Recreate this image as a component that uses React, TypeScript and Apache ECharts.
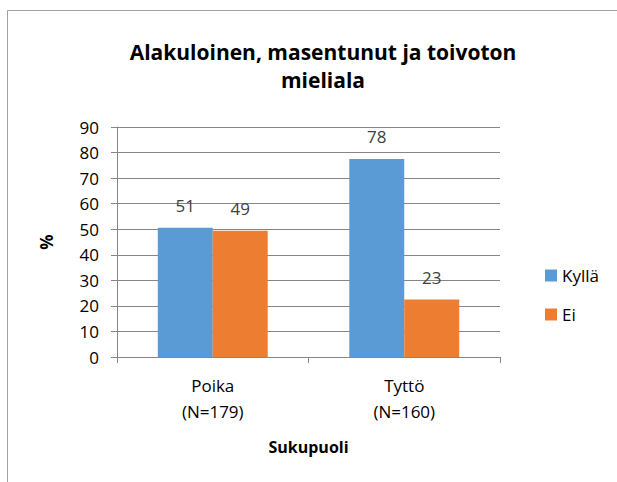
import React, { useEffect, useRef } from "react";
import * as echarts from "echarts";

const categories = ["Poika\n(N=179)", "Tyttö\n(N=160)"];
const kylla = [50.6, 77.5];
const ei = [49.4, 22.5];
const seriesNames = ["Kyllä", "Ei"];

const FONT = "'Open Sans', 'Noto Sans', sans-serif";

export default function App() {
  const ref = useRef<HTMLDivElement>(null);
  useEffect(() => {
    document.body.style.margin = "0";
    const chart = echarts.init(ref.current!, null, { renderer: "svg" });
    const labelCfg = {
      show: true,
      position: "top" as const,
      distance: 14,
      color: "#404040",
      fontSize: 17,
      fontFamily: FONT,
      formatter: (p: any) => String(Math.round(p.value)),
    };
    chart.setOption({
      animation: false,
      backgroundColor: "#fff",
      textStyle: { fontFamily: FONT },
      title: {
        text: "Alakuloinen, masentunut ja toivoton\nmieliala",
        left: 318,
        textAlign: "center",
        top: 33,
        textStyle: {
          fontSize: 21,
          fontWeight: "bold",
          color: "#000",
          fontFamily: FONT,
          lineHeight: 28,
        },
      },
      graphic: [
        {
          type: "rect",
          shape: { x: 7.5, y: 10.5, width: 640, height: 500 },
          style: { fill: "none", stroke: "#a0a0a0", lineWidth: 1 },
          silent: true,
        },
      ],
      legend: {
        orient: "vertical",
        left: 540,
        top: 262,
        itemWidth: 12,
        itemHeight: 12,
        itemGap: 22,
        icon: "rect",
        textStyle: { fontSize: 17, color: "#000", fontFamily: FONT },
        data: seriesNames,
      },
      grid: { left: 117, top: 127, width: 383, height: 230, containLabel: false },
      xAxis: {
        type: "category",
        data: categories,
        name: "Sukupuoli",
        nameLocation: "middle",
        nameGap: 82,
        nameTextStyle: { fontSize: 16, fontWeight: "bold", color: "#000", fontFamily: FONT },
        axisLine: { lineStyle: { color: "#868686" } },
        axisTick: { show: true, length: 6, lineStyle: { color: "#868686" } },
        axisLabel: { fontSize: 17, color: "#000", lineHeight: 26, margin: 15, fontFamily: FONT },
      },
      yAxis: {
        type: "value",
        min: 0,
        max: 90,
        interval: 10,
        name: "%",
        nameLocation: "middle",
        nameGap: 62,
        nameRotate: 90,
        nameTextStyle: { fontSize: 17, fontWeight: "bold", color: "#000", fontFamily: FONT },
        axisLine: { show: true, lineStyle: { color: "#868686" } },
        axisTick: { show: true, length: 6, lineStyle: { color: "#868686" } },
        axisLabel: { fontSize: 17, color: "#000", margin: 18, fontFamily: FONT },
        splitLine: { lineStyle: { color: "#868686" } },
      },
      series: [
        {
          name: seriesNames[0],
          type: "bar",
          data: kylla,
          barWidth: "28.7%",
          barGap: "0%",
          itemStyle: { color: "#5B9BD5" },
          label: labelCfg,
        },
        {
          name: seriesNames[1],
          type: "bar",
          data: ei,
          barWidth: "28.7%",
          barGap: "0%",
          itemStyle: { color: "#ED7D31" },
          label: labelCfg,
        },
      ],
    });
    return () => chart.dispose();
  }, []);
  return <div ref={ref} style={{ width: 617, height: 482 }} />;
}
